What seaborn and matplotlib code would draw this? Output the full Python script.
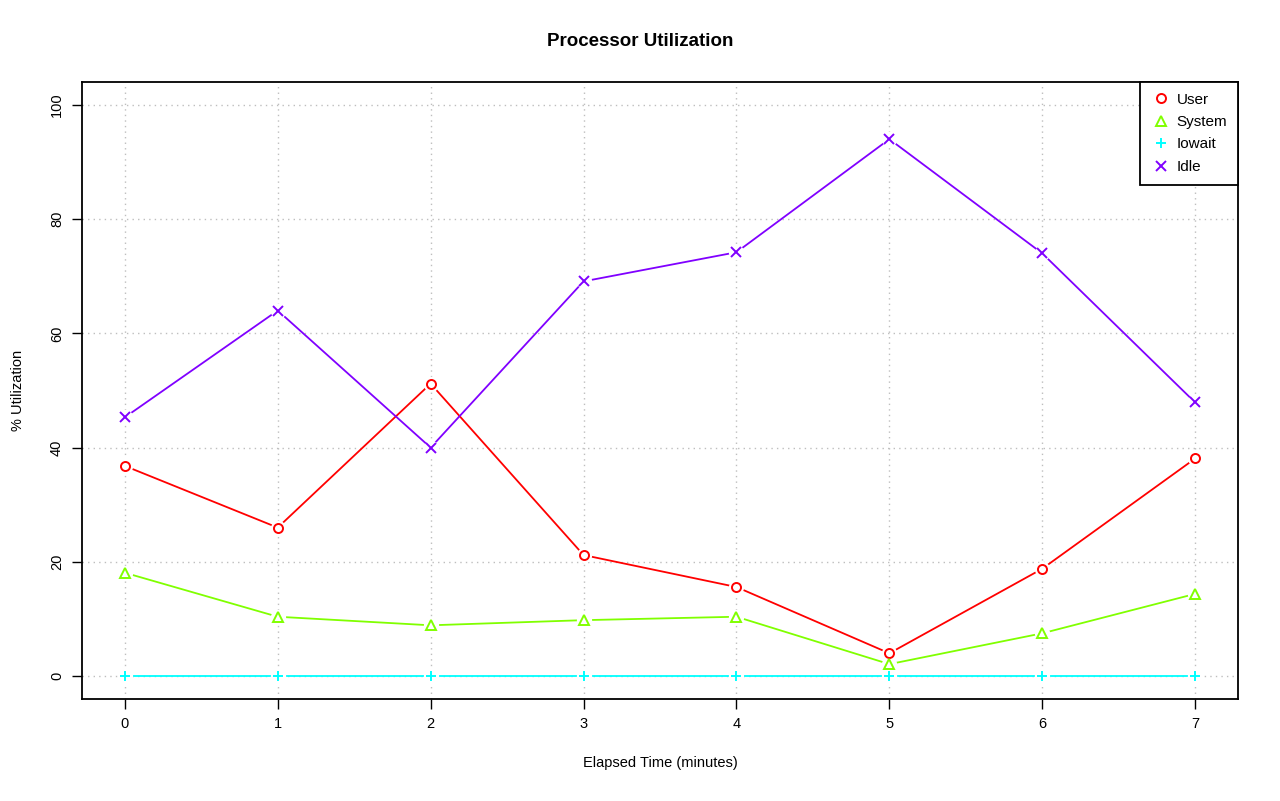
import numpy as np
import pandas as pd
import matplotlib
matplotlib.use("Agg")
import matplotlib.pyplot as plt
import seaborn as sns
from matplotlib.lines import Line2D

sns.set_style("white")
plt.rcParams["font.family"] = ["Liberation Sans", "DejaVu Sans"]
plt.rcParams["text.color"] = "black"
plt.rcParams["axes.labelcolor"] = "black"
plt.rcParams["xtick.color"] = "black"
plt.rcParams["ytick.color"] = "black"

minutes = [0, 1, 2, 3, 4, 5, 6, 7]
user = [36.8, 26.0, 51.2, 21.2, 15.6, 4.0, 18.8, 38.1]
system = [18.1, 10.4, 8.9, 9.8, 10.4, 2.1, 7.5, 14.4]
iowait = [0, 0, 0, 0, 0, 0, 0, 0]
idle = [45.3, 64.0, 40.0, 69.1, 74.2, 94.0, 74.0, 47.9]

series = ["User", "System", "Iowait", "Idle"]
colors = ["#FF0000", "#80FF00", "#00FFFF", "#8000FF"]
markers = ["o", "^", "+", "x"]

df = pd.DataFrame({"minute": minutes, "User": user, "System": system,
                   "Iowait": iowait, "Idle": idle})
long = df.melt(id_vars="minute", var_name="kind", value_name="pct")

fig = plt.figure(figsize=(12.8, 8.01), dpi=100)
ax = fig.add_axes([82 / 1280, 1 - 699 / 801, (1238 - 82) / 1280, (699 - 82) / 801])

# grid like R's grid()
for t in range(0, 8):
    ax.axvline(t, color="#BEBEBE", lw=1, ls=(0, (1, 3)), zorder=0)
for t in range(0, 101, 20):
    ax.axhline(t, color="#BEBEBE", lw=1, ls=(0, (1, 3)), zorder=0)

for name, c, m in zip(series, colors, markers):
    sub = long[long["kind"] == name]
    sns.lineplot(data=sub, x="minute", y="pct", color=c, lw=1.3, ax=ax, zorder=2)
    # white halo to mimic type="b" gaps
    ax.plot(sub["minute"], sub["pct"], ls="none", marker="o", ms=11,
            mfc="white", mec="none", zorder=3)
    ax.plot(sub["minute"], sub["pct"], ls="none", marker=m, ms=6.5,
            mfc="none", mec=c, mew=1.4, zorder=4)

ax.set_xlim(-0.28, 7.28)
ax.set_ylim(-4, 104)
ax.set_xticks(range(0, 8))
ax.set_yticks(range(0, 101, 20))
ax.tick_params(axis="both", direction="out", length=7, width=1, labelsize=10.5,
               color="black", labelcolor="black", pad=6, left=True, bottom=True)
for lab in ax.get_yticklabels():
    lab.set_rotation(90)
    lab.set_va("center")
for s in ax.spines.values():
    s.set_color("black")
    s.set_linewidth(1.3)

ax.set_xlabel("Elapsed Time (minutes)", fontsize=10.5, labelpad=18)
ax.set_ylabel("% Utilization", fontsize=10.5, labelpad=18)
fig.text(0.5, 1 - 42 / 801, "Processor Utilization", ha="center", va="center",
         fontsize=13.5, fontweight="bold")

handles = [Line2D([], [], ls="none", marker=m, ms=6.5, mfc="none", mec=c, mew=1.4)
           for c, m in zip(colors, markers)]
leg = ax.legend(handles, series, loc="upper right", frameon=True, fancybox=False,
                fontsize=11, handletextpad=0.3, borderaxespad=0, labelspacing=0.55,
                handlelength=1.4, borderpad=0.7)
leg.get_frame().set_edgecolor("black")
leg.get_frame().set_linewidth(1.3)
leg.get_frame().set_alpha(1)

fig.savefig("out.png", dpi=100)
